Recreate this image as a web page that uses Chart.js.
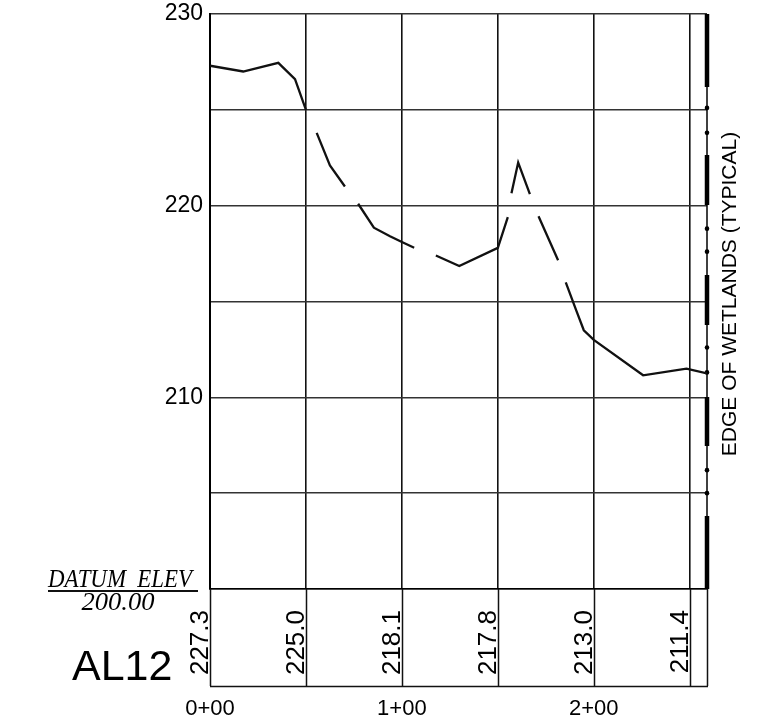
<!DOCTYPE html>
<html>
<head>
<meta charset="utf-8">
<script src="https://cdn.jsdelivr.net/npm/chart.js@4.4.1/dist/chart.umd.min.js"></script>
<style>
  html, body { margin: 0; padding: 0; background: #fff; }
  canvas { display: block; }
</style>
</head>
<body>
<canvas id="profile" width="764" height="728"></canvas>
<script>
// Ground profile along AL12: station (ft) and elevation (ft).
// A null elevation breaks the line, giving the long-dash hidden-line look.
const profileStations = [0, 17.3, 35.6, 44.3, 50, null,
  55.6, 62.5, 70.3, null,
  77.2, 85.4, 93.8, 100, 106.4, null,
  117.7, 129.9, 150, 155.2, null,
  157.1, 160.6, 166.7, null,
  171.2, 181.4, null,
  185.4, 191.0, 194.8, 200, 225.7, 248.3, 259];
const profileElevations = [227.3, 227.0, 227.45, 226.6, 225.0, null,
  223.8, 222.1, 221.0, null,
  220.1, 218.85, 218.4, 218.1, 217.8, null,
  217.4, 216.85, 217.8, 219.4, null,
  220.65, 222.25, 220.6, null,
  219.45, 217.15, null,
  216.0, 214.5, 213.5, 213.0, 211.15, 211.5, 211.25];

// Stations with grid lines and the ground elevation written at each.
const gridStations = [0, 50, 100, 150, 200, 250];
const groundElevLabels = ['227.3', '225.0', '218.1', '217.8', '213.0', '211.4'];
const stationTicks = [0, 100, 200];
const stationTickLabels = ['0+00', '1+00', '2+00'];

// Vertical scale.
const elevMin = 200;
const elevMax = 230;
const elevLabelValues = [210, 220, 230];
const datumLabel = '200.00';

// Edge of wetlands line at the end of the profile.
const endStation = 259;
const edgeDotElevations = [205.0, 206.2, 211.3, 212.6, 217.6, 218.8, 223.8, 225.1];

const SANS = "'Liberation Sans', Arial, sans-serif";
const SERIF = "'Liberation Serif', 'Times New Roman', serif";

// Draws text squeezed or stretched horizontally to a given width.
function fitText(ctx, text, cx, baseline, width) {
  const w = ctx.measureText(text).width;
  ctx.save();
  ctx.translate(cx, baseline);
  ctx.scale(width / w, 1);
  ctx.textAlign = 'center';
  ctx.fillText(text, 0, 0);
  ctx.restore();
}

const bandPlugin = {
  id: 'stationBand',
  afterDraw(chart) {
    const ctx = chart.ctx;
    const xs = chart.scales.x;
    const area = chart.chartArea;
    const bandBottom = area.bottom + 97;
    ctx.save();
    ctx.strokeStyle = '#111';
    ctx.lineWidth = 1.5;
    // band frame and dividers
    ctx.beginPath();
    gridStations.concat([endStation]).forEach(s => {
      const x = Math.round(xs.getPixelForValue(s)) + 0.5;
      ctx.moveTo(x, area.bottom);
      ctx.lineTo(x, bandBottom);
    });
    ctx.moveTo(area.left, bandBottom + 0.5);
    ctx.lineTo(xs.getPixelForValue(endStation) + 1, bandBottom + 0.5);
    ctx.stroke();

    // ground elevations, written upward just left of each grid line
    ctx.fillStyle = '#000';
    ctx.font = '26px ' + SANS;
    ctx.textAlign = 'right';
    ctx.textBaseline = 'alphabetic';
    gridStations.forEach((s, i) => {
      const x = xs.getPixelForValue(s) - 2;
      ctx.save();
      ctx.translate(x, area.bottom + 21);
      ctx.rotate(-Math.PI / 2);
      ctx.fillText(groundElevLabels[i], 0, 0);
      ctx.restore();
    });

    // station labels
    ctx.font = '22px ' + SANS;
    ctx.textAlign = 'center';
    ctx.textBaseline = 'middle';
    stationTicks.forEach((s, i) => {
      ctx.fillText(stationTickLabels[i], xs.getPixelForValue(s), bandBottom + 23);
    });

    // datum block
    ctx.textBaseline = 'alphabetic';
    ctx.font = 'italic 25px ' + SERIF;
    fitText(ctx, 'DATUM  ELEV', 120, area.bottom - 2, 144);
    ctx.beginPath();
    ctx.lineWidth = 1.8;
    ctx.moveTo(48, area.bottom + 2);
    ctx.lineTo(198, area.bottom + 2);
    ctx.stroke();
    ctx.font = 'italic 25px ' + SERIF;
    fitText(ctx, datumLabel, 118, area.bottom + 21, 73);

    // profile name
    ctx.font = '43px ' + SANS;
    ctx.textAlign = 'left';
    ctx.fillText('AL12', 72, area.bottom + 91);

    // edge note
    ctx.font = '21px ' + SANS;
    ctx.textAlign = 'center';
    ctx.save();
    ctx.translate(736, 294);
    ctx.rotate(-Math.PI / 2);
    ctx.fillText('EDGE OF WETLANDS (TYPICAL)', 0, 0);
    ctx.restore();
    ctx.restore();
  }
};

new Chart(document.getElementById('profile'), {
  type: 'line',
  data: {
    datasets: [
      {
        label: 'Ground',
        data: profileStations.map((s, i) => ({ x: s, y: profileElevations[i] })),
        borderColor: '#111',
        borderWidth: 2.3,
        pointRadius: 0,
        tension: 0,
        spanGaps: false,
        borderCapStyle: 'butt'
      },
      {
        label: 'Edge',
        data: [{ x: endStation, y: elevMin }, { x: endStation, y: elevMax }],
        borderColor: '#000',
        borderWidth: 1.5,
        pointRadius: 0,
        clip: false
      },
      {
        label: 'Edge dashes',
        data: [{ x: endStation, y: elevMin }, { x: endStation, y: elevMax }],
        borderColor: '#000',
        borderWidth: 4.5,
        borderDash: [73, 70, 49, 72, 50, 70, 50, 68, 80],
        pointRadius: 0,
        clip: false
      },
      {
        label: 'Edge dots',
        data: edgeDotElevations.map(e => ({ x: endStation, y: e })),
        showLine: false,
        pointRadius: 2.3,
        pointBackgroundColor: '#000',
        pointBorderWidth: 0,
        clip: false
      }
    ]
  },
  options: {
    responsive: false,
    animation: false,
    devicePixelRatio: 1,
    layout: { padding: { top: 14, right: 57, left: 0, bottom: 0 } },
    plugins: { legend: { display: false }, tooltip: { enabled: false } },
    scales: {
      x: {
        type: 'linear',
        min: 0,
        max: endStation,
        afterBuildTicks(scale) { scale.ticks = gridStations.map(v => ({ value: v })); },
        afterFit(scale) { scale.height = 139; scale.paddingLeft = 0; scale.paddingRight = 0; },
        ticks: { display: false },
        grid: { color: '#111', lineWidth: 1.6, drawTicks: false },
        border: { display: true, color: '#000', width: 1.5 }
      },
      y: {
        type: 'linear',
        min: elevMin,
        max: elevMax,
        afterFit(scale) { scale.width = 210; scale.paddingTop = 0; scale.paddingBottom = 0; },
        ticks: {
          stepSize: 5,
          padding: 7,
          color: '#000',
          font: { family: SANS, size: 23 },
          callback: v => (elevLabelValues.includes(v) ? String(v) : '')
        },
        grid: { color: '#333', lineWidth: 1.4, drawTicks: false },
        border: { display: true, color: '#000', width: 2 }
      }
    }
  },
  plugins: [bandPlugin]
});
</script>
</body>
</html>
